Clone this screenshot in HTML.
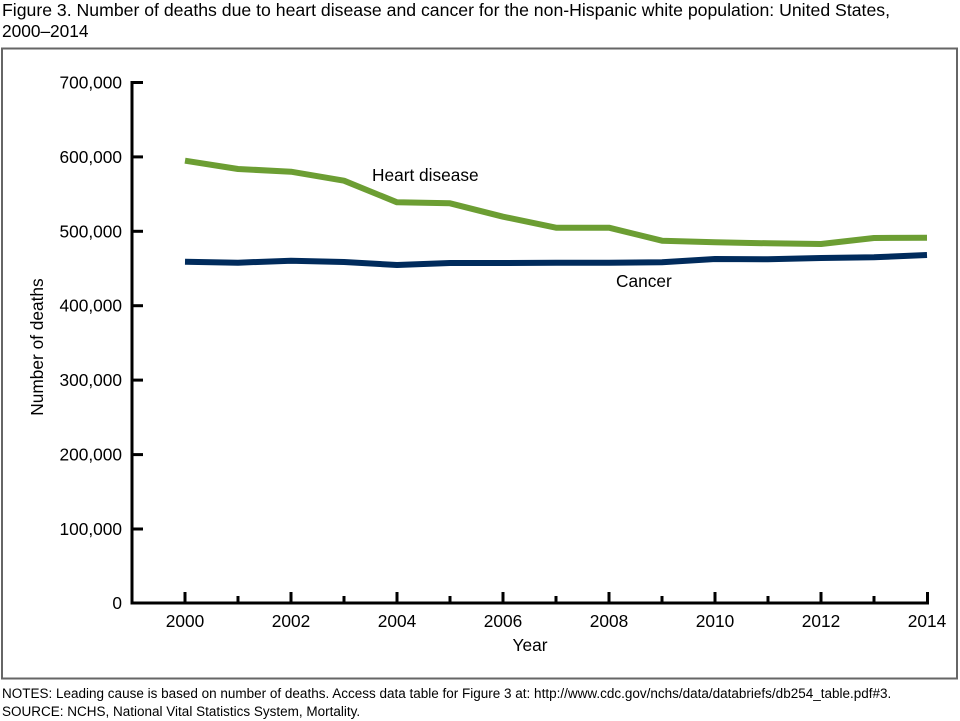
<!DOCTYPE html>
<html><head><meta charset="utf-8"><style>
html,body{margin:0;padding:0;background:#fff;}
svg{display:block;font-family:"Liberation Sans",Arial,sans-serif;}
</style></head><body>
<svg width="960" height="721" viewBox="0 0 960 721" xmlns="http://www.w3.org/2000/svg">
<rect width="960" height="721" fill="#fff"/>
<text x="2" y="16" font-size="17.3" fill="#000" textLength="888" lengthAdjust="spacingAndGlyphs">Figure 3. Number of deaths due to heart disease and cancer for the non-Hispanic white population: United States,</text>
<text x="2" y="37" font-size="17.3" fill="#000">2000–2014</text>
<rect x="2" y="48.5" width="955" height="630" fill="none" stroke="#666" stroke-width="2"/>
<!-- axes -->
<g stroke="#000" stroke-width="3" fill="none">
<line x1="132" y1="81" x2="132" y2="604.5"/>
<line x1="130.5" y1="603" x2="929" y2="603"/>
<line x1="132" y1="82.5" x2="143" y2="82.5"/>
<line x1="132" y1="156.9" x2="143" y2="156.9"/>
<line x1="132" y1="231.3" x2="143" y2="231.3"/>
<line x1="132" y1="305.7" x2="143" y2="305.7"/>
<line x1="132" y1="380.1" x2="143" y2="380.1"/>
<line x1="132" y1="454.6" x2="143" y2="454.6"/>
<line x1="132" y1="529" x2="143" y2="529"/>
<line x1="185" y1="603" x2="185" y2="592"/>
<line x1="238" y1="603" x2="238" y2="596"/>
<line x1="291" y1="603" x2="291" y2="592"/>
<line x1="344" y1="603" x2="344" y2="596"/>
<line x1="397" y1="603" x2="397" y2="592"/>
<line x1="450" y1="603" x2="450" y2="596"/>
<line x1="503" y1="603" x2="503" y2="592"/>
<line x1="556" y1="603" x2="556" y2="596"/>
<line x1="609" y1="603" x2="609" y2="592"/>
<line x1="662" y1="603" x2="662" y2="596"/>
<line x1="715" y1="603" x2="715" y2="592"/>
<line x1="768" y1="603" x2="768" y2="596"/>
<line x1="821" y1="603" x2="821" y2="592"/>
<line x1="874" y1="603" x2="874" y2="596"/>
<line x1="927.5" y1="604.5" x2="927.5" y2="592"/>
</g>
<g font-size="17.3" fill="#000" text-anchor="end">
<text x="122" y="88.5">700,000</text>
<text x="122" y="162.9">600,000</text>
<text x="122" y="237.3">500,000</text>
<text x="122" y="311.7">400,000</text>
<text x="122" y="386.1">300,000</text>
<text x="122" y="460.6">200,000</text>
<text x="122" y="535">100,000</text>
<text x="122" y="609">0</text>
</g>
<g font-size="17.3" fill="#000" text-anchor="middle">
<text x="185" y="627">2000</text>
<text x="291" y="627">2002</text>
<text x="397" y="627">2004</text>
<text x="503" y="627">2006</text>
<text x="609" y="627">2008</text>
<text x="715" y="627">2010</text>
<text x="821" y="627">2012</text>
<text x="927" y="627">2014</text>
<text x="530" y="651">Year</text>
<text transform="translate(43,347) rotate(-90)">Number of deaths</text>
</g>
<polyline fill="none" stroke="#6c9e33" stroke-width="6" stroke-linejoin="round" points="185,160.7 238,169 291,171.7 344,180.7 397,202.3 450,203.3 503,216.7 556,227.7 609,227.7 662,240.7 715,242.3 768,243.3 821,244 874,238 927,237.7"/>
<polyline fill="none" stroke="#002b5c" stroke-width="6" stroke-linejoin="round" points="185,261.7 238,262.7 291,260.7 344,262 397,265 450,263 503,263 556,262.7 609,262.7 662,262.3 715,259 768,259.3 821,258 874,257.3 927,255"/>
<text x="372" y="181" font-size="17.3" fill="#000">Heart disease</text>
<text x="616" y="287" font-size="17.3" fill="#000">Cancer</text>
<text x="2" y="698" font-size="13.5" fill="#000">NOTES: Leading cause is based on number of deaths. Access data table for Figure 3 at: http://www.cdc.gov/nchs/data/databriefs/db254_table.pdf#3.</text>
<text x="2" y="716" font-size="13.5" fill="#000">SOURCE: NCHS, National Vital Statistics System, Mortality.</text>
</svg>
</body></html>
